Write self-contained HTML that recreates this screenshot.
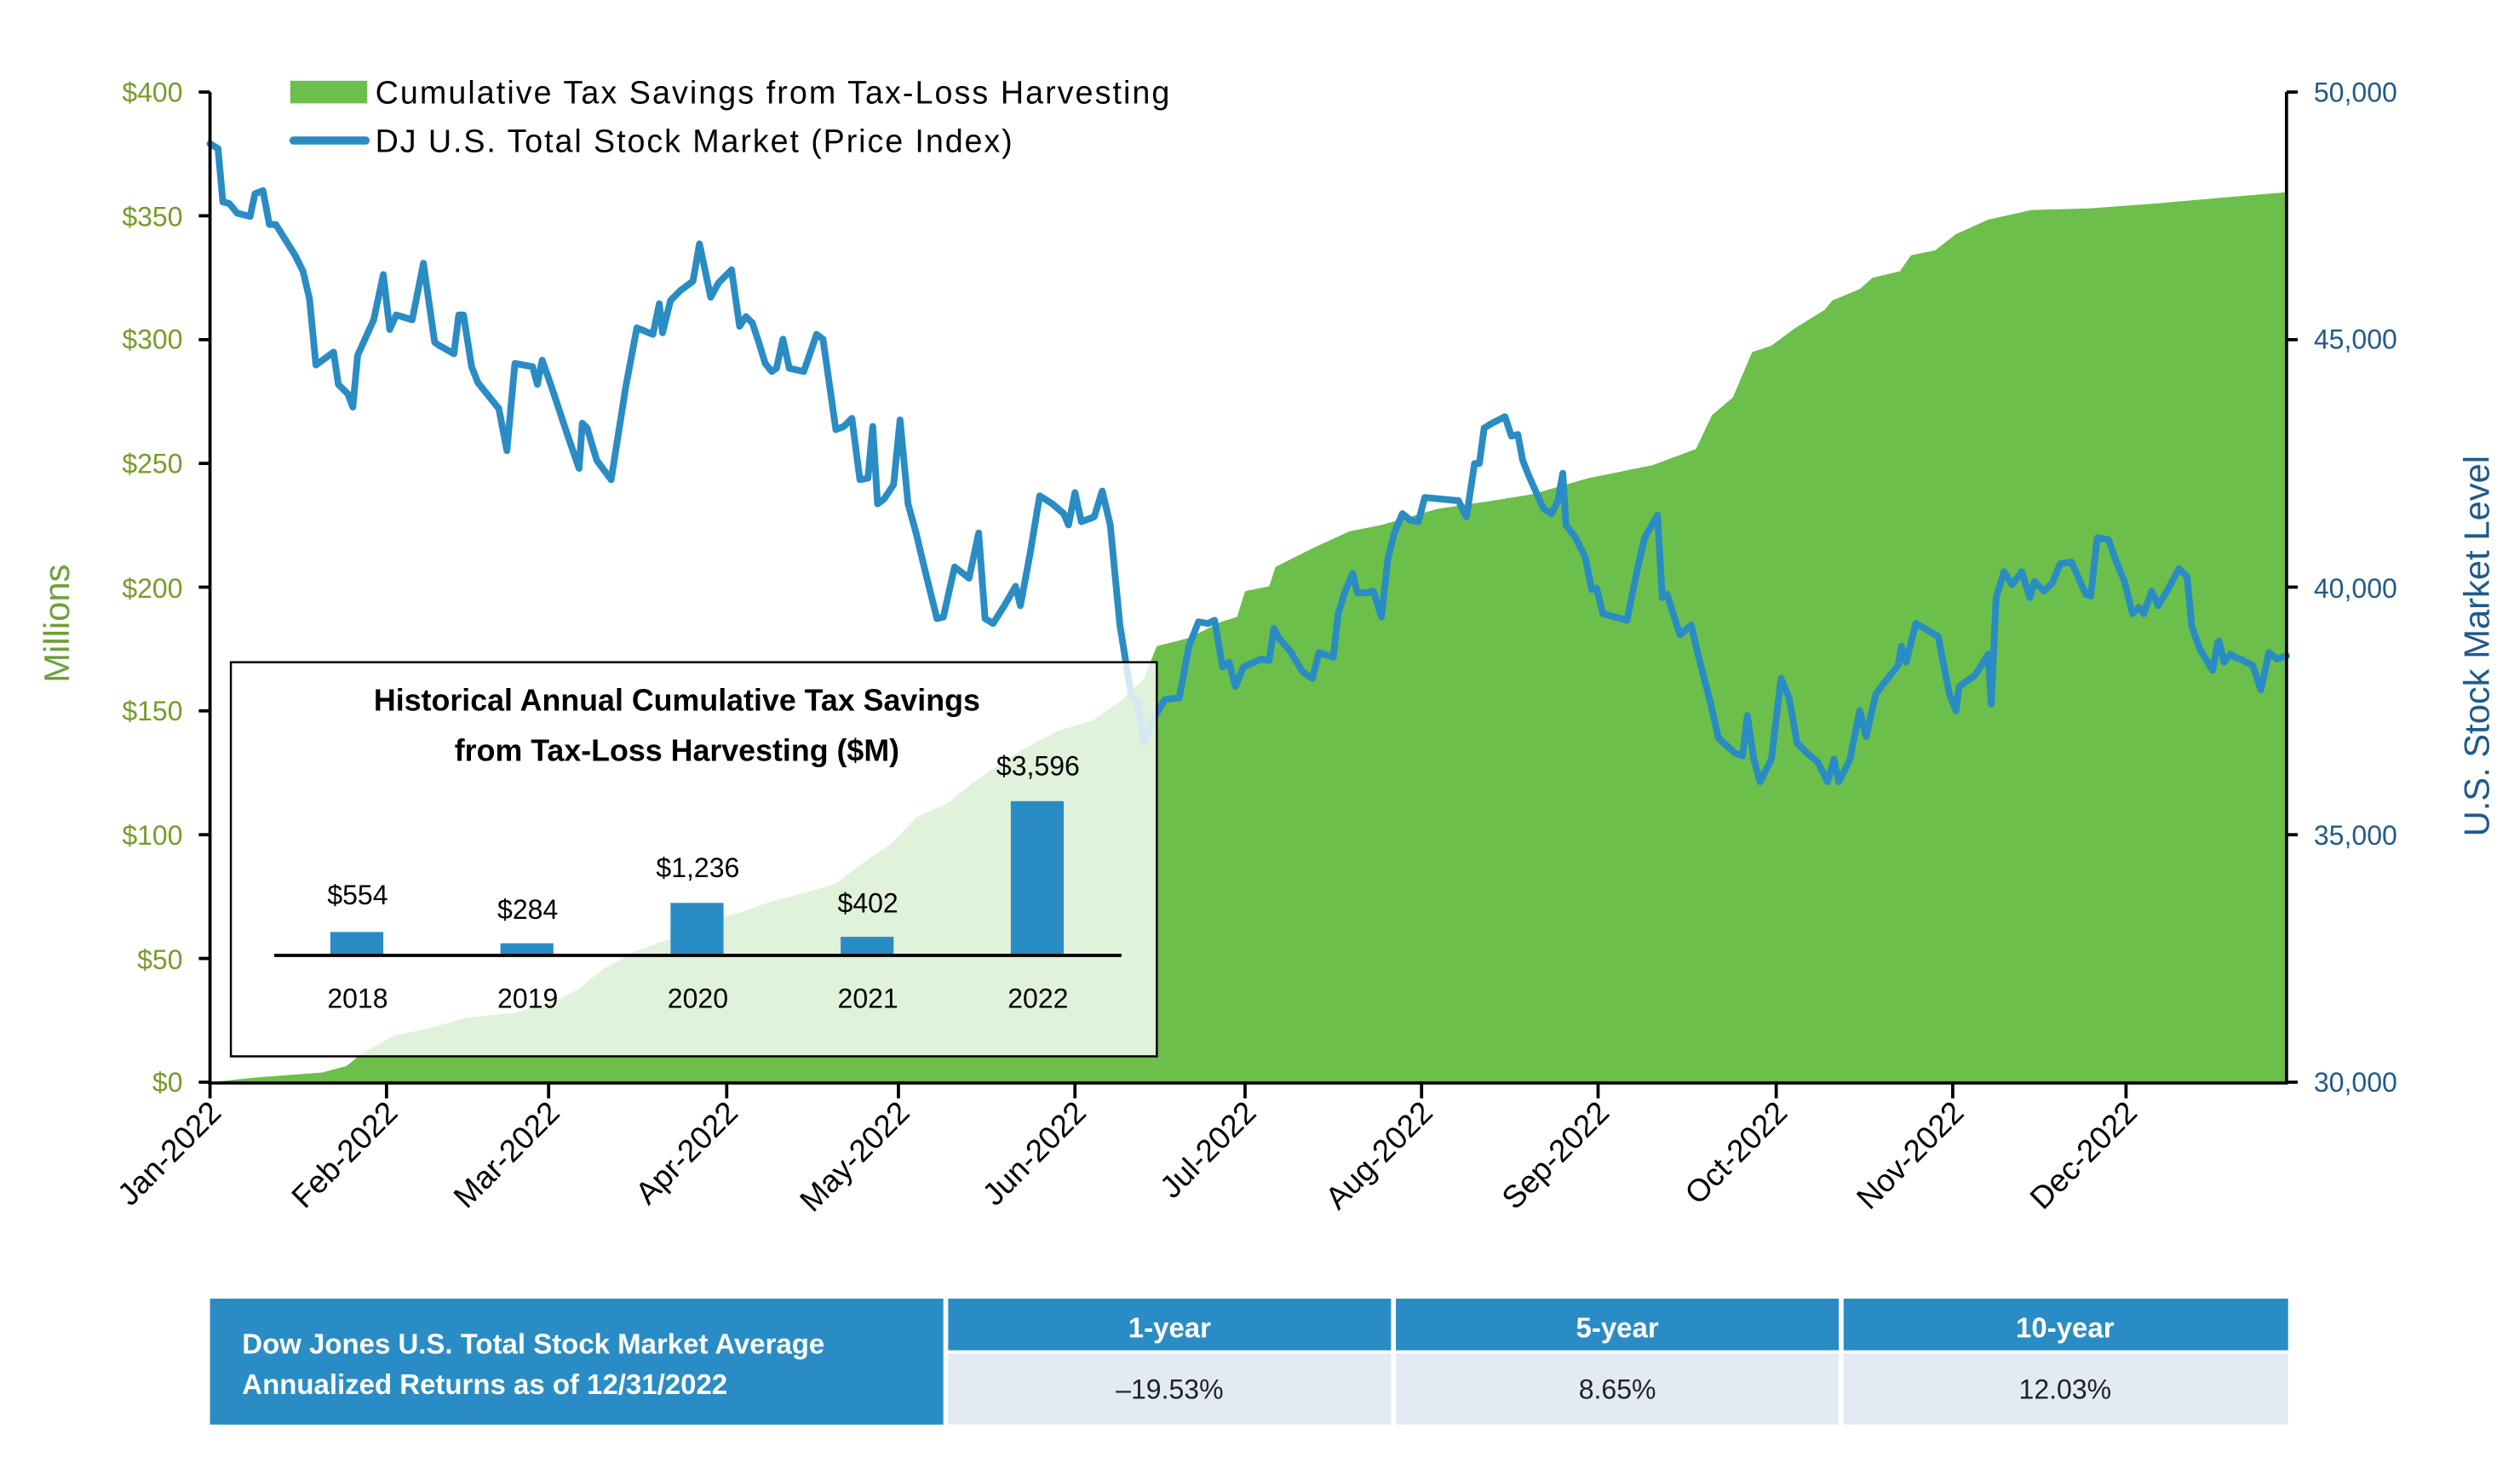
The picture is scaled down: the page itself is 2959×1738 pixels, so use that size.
<!DOCTYPE html>
<html><head><meta charset="utf-8"><style>
html,body{margin:0;padding:0;background:#fff;}
svg{display:block;}
text{font-family:"Liberation Sans",sans-serif;}
</style></head><body>
<svg width="2959" height="1738" viewBox="0 0 1560 916.3" preserveAspectRatio="none" xmlns="http://www.w3.org/2000/svg">
<g transform="translate(0.86,0) scale(0.9934,1)">
<polygon fill="#6cbf4a" points="130,670 160,667 200,664 215,660 225,652 245,641 265,637 290,630 320,627 345,620 360,612 375,600 395,589 420,580 440,570 460,565 480,558 500,553 520,547 540,532 555,522 570,506 590,497 605,485 625,471 640,462 660,452 680,446 700,432 712,420 720,400 740,395 760,385 770,382 775,366 790,363 794,351 818,339 840,329 860,325 895,315 929,310 954,306 989,296 1029,288 1056,278 1066,257 1079,246 1091,218 1103,214 1118,203 1136,192 1141,186 1158,179 1166,172 1183,168 1190,158 1205,155 1218,145 1238,136 1265,130 1302,129 1342,126 1377,123 1424,119 1424,670"/>
<polyline fill="none" stroke="#2a8cc4" stroke-width="4.2" stroke-linejoin="round" stroke-linecap="round" points="130,89 135,92 138,125 142,126 147,132 155,134 158,120 163,118 167,139 171,139 183,158 188,168 192,185 196,226 207,218 210,238 216,244 219,252 222,220 232,198 238,170 242,204 246,195 256,198 263,163 270,212 273,214 282,219 285,195 288,195 293,227 297,237 310,253 315,279 320,225 331,227 334,238 337,223 343,240 353,270 360,290 362,262 365,265 371,285 380,297 389,240 396,203 406,207 410,188 412,206 417,186 423,180 431,174 435,151 438,165 442,184 447,175 455,167 460,202 464,196 468,200 472,212 476,225 480,230 483,228 487,210 491,228 500,230 508,207 512,210 520,266 525,264 530,259 535,297 540,296 543,264 546,312 550,309 556,300 560,260 565,312 570,330 576,355 583,383 587,382 594,351 603,358 609,330 613,383 618,386 625,375 632,363 635,375 641,343 647,307 655,312 662,318 665,325 669,305 673,323 681,320 686,304 691,325 697,387 704,430 708,435 712,460 718,445 725,433 734,432 740,400 746,385 752,386 756,384 761,413 765,410 769,425 774,413 785,408 790,409 793,389 796,395 803,403 811,416 817,420 821,404 830,407 833,380 837,367 842,355 845,367 851,367 855,366 860,382 864,346 868,330 873,318 878,322 883,323 887,308 908,310 913,320 918,287 921,287 924,265 929,262 937,258 941,270 945,269 948,285 952,295 961,315 966,318 970,310 973,293 975,325 981,333 987,345 991,365 994,364 998,380 1013,384 1020,350 1024,333 1032,319 1035,370 1038,368 1046,393 1053,387 1058,408 1065,435 1070,457 1080,466 1085,468 1088,443 1092,470 1096,484 1103,470 1109,420 1114,432 1119,460 1125,466 1132,472 1138,484 1142,470 1145,484 1152,470 1158,440 1162,456 1168,430 1173,423 1182,412 1184,400 1187,410 1193,386 1207,394 1210,410 1214,430 1218,440 1220,425 1230,418 1238,405 1240,436 1243,370 1248,354 1253,362 1259,354 1264,370 1267,360 1273,366 1278,361 1283,349 1290,348 1299,368 1302,369 1306,333 1313,334 1318,348 1323,360 1328,380 1332,376 1335,380 1340,366 1344,375 1350,365 1357,352 1362,357 1365,388 1370,402 1378,415 1381,398 1382,397 1385,410 1389,405 1392,407 1395,408 1403,412 1408,427 1413,404 1418,408 1424,406"/>

<g stroke="#000" stroke-width="2" fill="none">
<line x1="130" y1="57" x2="130" y2="671"/>
<line x1="1424" y1="57" x2="1424" y2="671"/>
<line x1="129" y1="670.5" x2="1425" y2="670.5"/>
<line x1="123" y1="57" x2="130" y2="57"/><line x1="123" y1="133.6" x2="130" y2="133.6"/><line x1="123" y1="210.3" x2="130" y2="210.3"/><line x1="123" y1="286.9" x2="130" y2="286.9"/><line x1="123" y1="363.5" x2="130" y2="363.5"/><line x1="123" y1="440.1" x2="130" y2="440.1"/><line x1="123" y1="516.8" x2="130" y2="516.8"/><line x1="123" y1="593.4" x2="130" y2="593.4"/><line x1="123" y1="670" x2="130" y2="670"/>
<line x1="1424" y1="57" x2="1431" y2="57"/><line x1="1424" y1="210.3" x2="1431" y2="210.3"/><line x1="1424" y1="363.5" x2="1431" y2="363.5"/><line x1="1424" y1="516.8" x2="1431" y2="516.8"/><line x1="1424" y1="670" x2="1431" y2="670"/>
<line x1="130" y1="670" x2="130" y2="680"/><line x1="240" y1="670" x2="240" y2="680"/><line x1="341" y1="670" x2="341" y2="680"/><line x1="452" y1="670" x2="452" y2="680"/><line x1="559" y1="670" x2="559" y2="680"/><line x1="669" y1="670" x2="669" y2="680"/><line x1="775" y1="670" x2="775" y2="680"/><line x1="885" y1="670" x2="885" y2="680"/><line x1="995" y1="670" x2="995" y2="680"/><line x1="1106" y1="670" x2="1106" y2="680"/><line x1="1216" y1="670" x2="1216" y2="680"/><line x1="1324" y1="670" x2="1324" y2="680"/>
</g>
<g font-size="17" fill="#7a9a2a" text-anchor="end">
<text x="113" y="63">$400</text><text x="113" y="140">$350</text><text x="113" y="216">$300</text><text x="113" y="293">$250</text><text x="113" y="370">$200</text><text x="113" y="446">$150</text><text x="113" y="523">$100</text><text x="113" y="600">$50</text><text x="113" y="676">$0</text>
</g>
<text transform="translate(42,386) rotate(-90)" text-anchor="middle" font-size="22" fill="#6ea03a">Millions</text>
<g font-size="17" fill="#1f5a8c">
<text x="1441" y="63">50,000</text><text x="1441" y="216">45,000</text><text x="1441" y="370">40,000</text><text x="1441" y="523">35,000</text><text x="1441" y="676">30,000</text>
</g>
<text transform="translate(1550,400) rotate(-90)" text-anchor="middle" font-size="22" fill="#1f5a8c">U.S. Stock Market Level</text>
<g font-size="19.5" fill="#000" text-anchor="end">
<text transform="translate(138,690) rotate(-45)">Jan-2022</text>
<text transform="translate(248,690) rotate(-45)">Feb-2022</text>
<text transform="translate(349,690) rotate(-45)">Mar-2022</text>
<text transform="translate(460,690) rotate(-45)">Apr-2022</text>
<text transform="translate(567,690) rotate(-45)">May-2022</text>
<text transform="translate(677,690) rotate(-45)">Jun-2022</text>
<text transform="translate(783,690) rotate(-45)">Jul-2022</text>
<text transform="translate(893,690) rotate(-45)">Aug-2022</text>
<text transform="translate(1003,690) rotate(-45)">Sep-2022</text>
<text transform="translate(1114,690) rotate(-45)">Oct-2022</text>
<text transform="translate(1224,690) rotate(-45)">Nov-2022</text>
<text transform="translate(1332,690) rotate(-45)">Dec-2022</text>
</g>
<rect x="180" y="50" width="48" height="14" fill="#6cbf4a"/>
<text x="233" y="64" font-size="20" fill="#000" textLength="495" lengthAdjust="spacing">Cumulative Tax Savings from Tax-Loss Harvesting</text>
<line x1="182" y1="87" x2="227" y2="87" stroke="#2a8cc4" stroke-width="5" stroke-linecap="round"/>
<text x="233" y="94" font-size="20" fill="#000" textLength="397" lengthAdjust="spacing">DJ U.S. Total Stock Market (Price Index)</text>

<rect x="143" y="410" width="577" height="244" fill="#fff" fill-opacity="0.8" stroke="#000" stroke-width="1.3"/>
<g font-size="19" font-weight="bold" fill="#000" text-anchor="middle">
<text x="421" y="440">Historical Annual Cumulative Tax  Savings</text>
<text x="421" y="471">from Tax-Loss Harvesting ($M)</text>
</g>
<g fill="#2a8cc4">
<rect x="205" y="577" width="33" height="14"/><rect x="311" y="584" width="33" height="7"/><rect x="417" y="559" width="33" height="32"/><rect x="523" y="580" width="33" height="11"/><rect x="629" y="496" width="33" height="95"/>
</g>
<line x1="170" y1="591.5" x2="698" y2="591.5" stroke="#000" stroke-width="2"/>
<g font-size="17" fill="#000" text-anchor="middle">
<text x="222" y="560">$554</text><text x="328" y="569">$284</text><text x="434" y="543">$1,236</text><text x="540" y="565">$402</text><text x="646" y="480">$3,596</text>
<text x="222" y="624">2018</text><text x="328" y="624">2019</text><text x="434" y="624">2020</text><text x="540" y="624">2021</text><text x="646" y="624">2022</text>
</g>

<rect x="130" y="804" width="457" height="78" fill="#2a8cc4"/>
<rect x="590" y="804" width="276" height="32" fill="#2a8cc4"/>
<rect x="869" y="804" width="276" height="32" fill="#2a8cc4"/>
<rect x="1148" y="804" width="277" height="32" fill="#2a8cc4"/>
<rect x="590" y="838" width="276" height="44" fill="#e2eaf3"/>
<rect x="869" y="838" width="276" height="44" fill="#e2eaf3"/>
<rect x="1148" y="838" width="277" height="44" fill="#e2eaf3"/>
<g font-size="17.5" font-weight="bold" fill="#fff">
<text x="150" y="838">Dow Jones U.S. Total Stock Market Average</text>
<text x="150" y="863">Annualized Returns as of 12/31/2022</text>
</g>
<g font-size="17.5" font-weight="bold" fill="#fff" text-anchor="middle">
<text x="728" y="828">1-year</text><text x="1007" y="828">5-year</text><text x="1286" y="828">10-year</text>
</g>
<g font-size="17" fill="#222" text-anchor="middle">
<text x="728" y="866">–19.53%</text><text x="1007" y="866">8.65%</text><text x="1286" y="866">12.03%</text>
</g>
</g>
</svg>
</body></html>
